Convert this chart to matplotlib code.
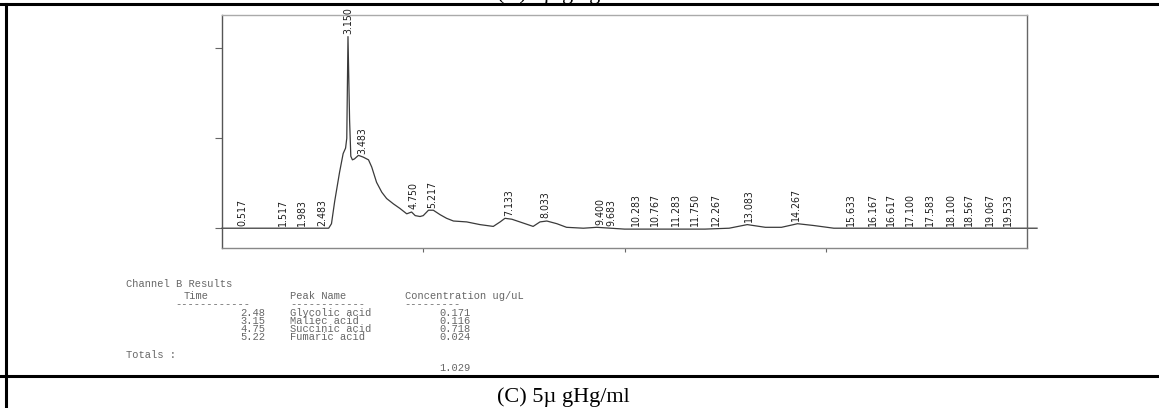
import numpy as np
import matplotlib
matplotlib.use("Agg")
import matplotlib.pyplot as plt
from matplotlib.lines import Line2D

W, H = 1159, 408

# chromatogram trace (minutes, signal)
time = [0.0, 2.65, 2.72, 2.80, 2.92, 3.01, 3.07, 3.10, 3.13, 3.17, 3.20, 3.24,
        3.29, 3.39, 3.51, 3.64, 3.72, 3.84, 3.97, 4.09, 4.26, 4.42, 4.59, 4.71,
        4.80, 4.92, 5.00, 5.13, 5.25, 5.42, 5.58, 5.75, 6.08, 6.41, 6.74, 6.91,
        7.03, 7.20, 7.40, 7.73, 7.90, 8.07, 8.32, 8.56, 8.98, 9.31, 10.0, 11.0,
        12.0, 12.6, 13.05, 13.5, 13.9, 14.3, 14.7, 15.2, 17.0, 19.0, 20.25]
signal = [0.0, 0.0, 0.05, 0.30, 0.62, 0.83, 0.89, 1.00, 2.13, 1.20, 0.80, 0.76,
          0.77, 0.81, 0.79, 0.76, 0.68, 0.51, 0.40, 0.33, 0.27, 0.22, 0.16, 0.18,
          0.14, 0.13, 0.14, 0.20, 0.20, 0.15, 0.11, 0.08, 0.07, 0.04, 0.02, 0.07,
          0.11, 0.10, 0.07, 0.02, 0.07, 0.08, 0.05, 0.01, 0.00, 0.01, -0.01, -0.01,
          -0.01, 0.00, 0.04, 0.01, 0.01, 0.05, 0.03, 0.00, 0.00, 0.00, 0.00]

peak_times = [0.517, 1.517, 1.983, 2.483, 3.150, 3.483, 4.750, 5.217, 7.133,
              8.033, 9.400, 9.683, 10.283, 10.767, 11.283, 11.750, 12.267,
              13.083, 14.267, 15.633, 16.167, 16.617, 17.100, 17.583, 18.100,
              18.567, 19.067, 19.533]

# results table
result_times = ["2.48", "3.15", "4.75", "5.22"]
peak_names = ["Glycolic acid", "Maliec acid", "Succinic acid", "Fumaric acid"]
concentrations = ["0.171", "0.116", "0.718", "0.024"]
total_conc = "1.029"


def fx(x):
    return x / W


def fy(y):
    return 1 - y / H


fig = plt.figure(figsize=(W / 100, H / 100), dpi=100)
fig.patch.set_facecolor("white")

ax = fig.add_axes([fx(222), fy(248), fx(1027) - fx(222), fy(15) - fy(248)])
t = np.array(time)
s = np.array(signal)
ax.plot(t, s, color="#3a3a3a", lw=0.9, clip_on=False)
ax.set_xlim(0, 20)
ax.set_ylim(-0.22, 2.37)
ax.set_xticks([5, 10, 15])
ax.set_yticks([0, 1, 2])
ax.set_xticklabels([])
ax.set_yticklabels([])
ax.tick_params(axis="x", direction="out", length=3, width=0.8, color="#666")
ax.tick_params(axis="y", direction="out", length=5, width=0.8, color="#666")
for side, c in [("left", "#555"), ("bottom", "#888"), ("top", "#aaa"), ("right", "#666")]:
    ax.spines[side].set_color(c)
    ax.spines[side].set_linewidth(1.0)

label_font = ["Liberation Sans Narrow", "DejaVu Sans"]
for pt in peak_times:
    near = s[np.abs(t - pt) < 0.05]
    base = max(np.interp(pt, t, s), near.max() if near.size else 0.0)
    ax.text(pt, max(base, 0.0) + 0.03, f"{pt:.3f}", rotation=90, ha="center",
            va="bottom", fontsize=7.6, family=label_font, fontstretch="condensed",
            color="#1e1e1e", clip_on=False)

# results printout
mono = dict(family=["Liberation Mono", "DejaVu Sans Mono"], fontsize=7.5, color="#666")
adv = 8.2
x0 = 126


def col(c):
    return fx(x0 + c * adv)


fig.text(col(0), fy(284), "Channel B Results", va="center", **mono)
fig.text(col(7), fy(296), "Time", va="center", **mono)
fig.text(col(20), fy(296), "Peak Name", va="center", **mono)
fig.text(col(34), fy(296), "Concentration ug/uL", va="center", **mono)
fig.text(col(6), fy(304.5), "-" * 12, va="center", **mono)
fig.text(col(20), fy(304.5), "-" * 12, va="center", **mono)
fig.text(col(34), fy(304.5), "-" * 9, va="center", **mono)
row_y = [312.5, 320.5, 328.5, 336.5]
for yy, rt, nm, cc in zip(row_y, result_times, peak_names, concentrations):
    fig.text(col(17), fy(yy), rt, va="center", ha="right", **mono)
    fig.text(col(20), fy(yy), nm, va="center", **mono)
    fig.text(col(42), fy(yy), cc, va="center", ha="right", **mono)
fig.text(col(0), fy(355), "Totals :", va="center", **mono)
fig.text(col(42), fy(368), total_conc, va="center", ha="right", **mono)

# table borders and captions
for xs, ys in [([0, 1], [fy(4), fy(4)]), ([0, 1], [fy(376), fy(376)]),
               ([fx(6), fx(6)], [0, fy(4)])]:
    fig.add_artist(Line2D(xs, ys, transform=fig.transFigure, color="black", lw=2.2))

serif = ["Liberation Serif", "DejaVu Serif"]
fig.text(fx(563), fy(-1), "(B) 5\u00b5 gHg/ml", ha="center", va="baseline",
         fontsize=16, family=serif)
fig.text(fx(563), fy(397), "(C) 5\u00b5 gHg/ml", ha="center", va="center",
         fontsize=16, family=serif)

fig.savefig("out.png", dpi=100, facecolor="white")
